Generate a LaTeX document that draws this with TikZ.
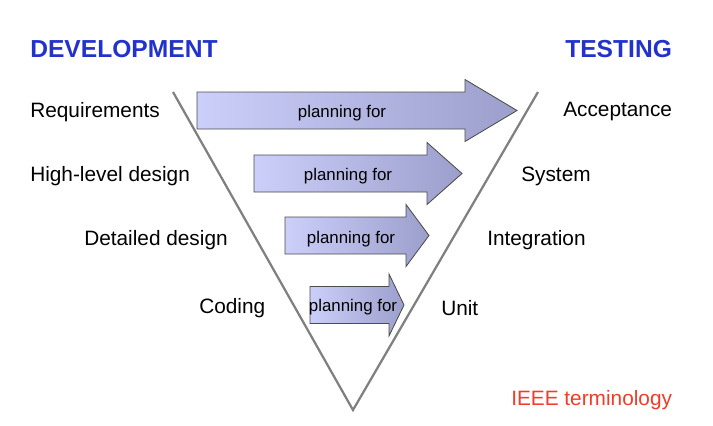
\documentclass[tikz,border=0pt]{standalone}
\usepackage{fontspec}
\setmainfont{Liberation Sans}
\usetikzlibrary{positioning}

\definecolor{headblue}{HTML}{2233CC}
\definecolor{ieeered}{HTML}{F03C28}
\definecolor{arrowlight}{HTML}{CBCFFA}
\definecolor{arrowdark}{HTML}{9C9FCB}

\begin{document}
\begin{tikzpicture}[
  label/.style={anchor=west, inner sep=0pt, font=\fontsize{14.8}{17}\selectfont},
  head/.style={anchor=west, inner sep=0pt, font=\fontsize{17.5}{20}\selectfont\bfseries, text=headblue},
  plan/.style={inner sep=0pt, font=\fontsize{12}{14}\selectfont},
  planarrow/.style={draw=black!70, line width=0.6pt, left color=arrowlight, right color=arrowdark},
  vline/.style={draw=black!50, line width=1.6pt}
]
\useasboundingbox (0,0) rectangle (17.825,-10.65);

% the V
\coordinate (vl) at (4.325,-2.3);
\coordinate (vr) at (13.45,-2.3);
\coordinate (vb) at (8.825,-10.25);
\draw[vline] (vl) -- (vb) -- (vr);

% planning arrows: start / head base / tip / centre line
\foreach \n/\xa/\xb/\xt/\yc in {a1/4.925/11.625/12.925/-2.7625,
                                 a2/6.35/10.675/11.55/-4.3375,
                                 a3/7.125/10.15/10.725/-5.8875,
                                 a4/7.75/9.725/10.1/-7.625}{
  \path[planarrow] (\xa,\yc+0.4625) -- (\xb,\yc+0.4625) -- (\xb,\yc+0.775)
    -- (\xt,\yc) -- (\xb,\yc-0.775) -- (\xb,\yc-0.4625) -- (\xa,\yc-0.4625) -- cycle;
}
\node[plan] (p1) at (8.55,-2.82) {planning for};
\node[plan] (p2) at (8.7,-4.4) {planning for};
\node[plan] (p3) at (8.775,-5.97) {planning for};
\node[plan] (p4) at (8.825,-7.67) {planning for};

% headings
\node[head] (dev) at (0.75,-1.23) {DEVELOPMENT};
\node[head] (test) at (14.125,-1.23) {TESTING};

% development side
\node[label] (req) at (0.75,-2.8) {Requirements};
\node[label] (hld) at (0.75,-4.4) {High-level design};
\node[label] (dd) at (2.1,-6.0) {Detailed design};
\node[label] (code) at (4.975,-7.7) {Coding};

% testing side
\node[label] (acc) at (14.075,-2.8) {Acceptance};
\node[label] (sys) at (13.025,-4.4) {System};
\node[label] (int) at (12.175,-6.0) {Integration};
\node[label] (unit) at (11.025,-7.7) {Unit};

\node[label, text=ieeered] (ieee) at (12.775,-10.0) {IEEE terminology};

\end{tikzpicture}
\end{document}
